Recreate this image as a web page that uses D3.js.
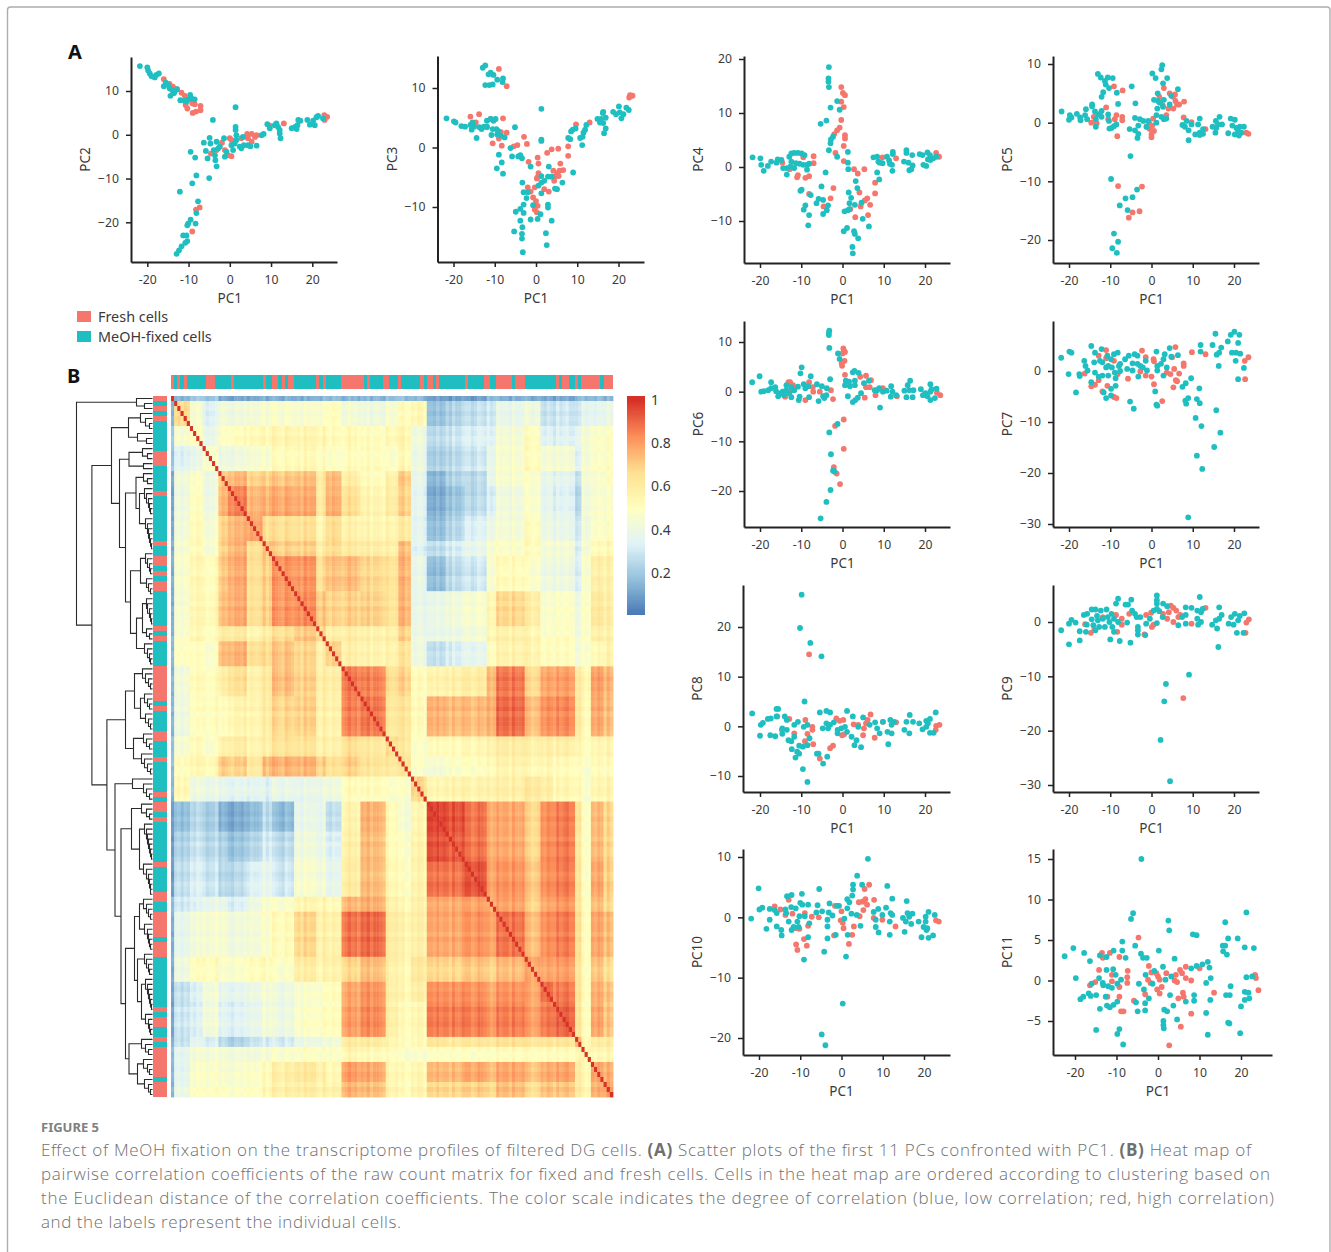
<!DOCTYPE html>
<html>
<head>
<meta charset="utf-8">
<script src="https://cdn.jsdelivr.net/npm/d3@7"></script>
<style>
  html, body { margin: 0; padding: 0; background: #fff; }
  svg { display: block; }
  text { font-family: "Noto Sans", sans-serif; }
</style>
</head>
<body>
<div id="plot"></div>
<script>
// Scatter data, [PC1, PCn]
const pc2Fresh = [[-16,12.7],[-14.6,11.6],[-13.8,11],[-12.8,10.4],[-11.7,9.6],[-10.9,8.9],[-10.7,6.8],[-10.3,6],[-9.1,7.2],[-8.5,7],[-7.1,6.6],[-9,5],[-8.2,5.3],[-7.1,5.6],[-7.3,-16.6],[-8.2,-17.1],[-9.1,-22.1],[-4.6,-4.3],[-3.2,-3.5],[-1.9,-1.8],[-1.2,-3.5],[-.4,-4.7],[.4,-4.9],[0,-.8],[.4,-1.2],[.8,-2],[2.8,-.8],[4.2,.2],[5.3,.2],[4.4,-.8],[5.3,-1.6],[6.1,-.5],[6.5,-.1],[9.7,2.1],[13.1,2.6],[22.9,4.5],[23.6,4.1],[23,3.4]];
const pc2Fixed = [[-21.8,15.7],[-20,15.4],[-19.8,14.7],[-19.4,14],[-19,13.4],[-18.2,13.1],[-17.8,13.7],[-17.2,14],[-16,11.1],[-15.5,11.9],[-15,11.4],[-14.6,10.6],[-14,10.2],[-13.4,9.8],[-12.8,10.4],[-14.4,8.9],[-13.6,9.5],[-12,7.9],[-11,7.8],[-10,8.1],[-9.6,9.1],[-9.3,8.3],[-8.5,8.1],[-10.5,7.6],[-12.1,-13],[-9.5,-3.9],[-8.4,-5.2],[-9.1,-11.1],[-8.1,-9.3],[-5,-9.9],[-4.1,3.4],[-6.3,-1.8],[-5.8,-3.7],[-5.4,-5.4],[-4.9,-.7],[-4.7,-2],[-3.9,-3.5],[-3.6,-4.7],[-3.5,-5.8],[-3.2,-7.2],[-3.2,-1.6],[-2.8,-3.1],[-2.4,-2.7],[-1.4,-.8],[-1.2,-5],[-.8,-3.9],[.4,-2.4],[.8,-3.5],[1.2,-2],[1.4,6.3],[1.4,1.8],[1.4,1.1],[1.6,-.1],[1.6,-1.2],[2.4,-2.7],[2.8,-3.1],[3.2,-.5],[3.4,-2.4],[4.4,-2.4],[5,-2.6],[6.5,-2.5],[7.7,-.1],[8.2,.2],[9.1,2.4],[9.7,1.5],[10.9,2.2],[11.3,2.6],[11.7,1.8],[12.1,1.1],[12.3,-.8],[12.1,.3],[15,1.5],[15.8,1.8],[16.4,2.2],[16.6,3.4],[17.1,3.2],[18.8,3.4],[19.4,2.3],[20.2,3.2],[20.6,2.2],[21,4],[21.4,4.3],[22.6,3.7],[16.2,1.3],[-7.7,-15.2],[-8.1,-17.9],[-8.3,-20.3],[-9.5,-19.4],[-10.1,-20.3],[-10.3,-20.7],[-11.3,-23],[-10.5,-23],[-10.3,-24.3],[-10.8,-24.7],[-11.7,-25.5],[-12.3,-26.4],[-12.9,-27.2]];

const pc3Fresh = [[-15.9,5.2],[-13.8,5.6],[-14.6,4.2],[-11.9,3.4],[-11,4.8],[-10.5,.7],[-9,1.5],[-8.5,2.6],[-8,4.9],[-7.1,2.5],[-8.3,.3],[-9,13.2],[-7.1,10.3],[-5.4,.2],[-4.5,.4],[-2.9,1.8],[-2.2,.6],[-1.8,-2.4],[.4,-1.7],[.6,-2.7],[.6,-4.3],[2.7,-.9],[3.8,-.3],[5.4,-.2],[7.8,.2],[7.8,-1.4],[5.9,-2.7],[4.2,-3.9],[5.1,-4.3],[5.7,-3.9],[6.6,-3.8],[4.6,-4.9],[5.5,-4.8],[4.4,-5.6],[.4,-5],[.2,-5.2],[-.3,-6.7],[-2,-6.7],[-1.3,-7.4],[-.7,-8.4],[0,-9],[.4,-9.8],[-.3,-10.4],[.2,-10.9],[2,-7],[3.1,-7.4],[9.7,3.9],[13,4.2],[22.9,8.7],[22.6,8.4],[23.4,8.7],[22.8,8.8]];
const pc3Fixed = [[-21.7,4.9],[-19.9,4.4],[-19.5,4.2],[-18.1,3.6],[-17.2,3.5],[-15.9,3.8],[-15.4,4.2],[-15,3.5],[-15.6,3],[-14.4,1.6],[-13.7,3.4],[-13.2,3.1],[-12.6,3.5],[-11.9,4.5],[-11.9,3.5],[-11,4.8],[-10.3,4.5],[-9.8,4.8],[-10.5,3.1],[-9.6,3.1],[-9.2,2.8],[-10.8,2.1],[-9.4,2.2],[-8.5,2],[-7.6,1.7],[-6.2,-.1],[-5.8,-1.5],[-4.3,-1.5],[-3.8,-1.3],[-3.4,-1.8],[-9,-1.2],[-8.3,-2.5],[-9.5,-3.5],[-8,-4.4],[-5.1,3.4],[-12.9,13.4],[-12.3,13.8],[-11.5,12.3],[-11,12.6],[-10.3,12.2],[-12.3,10.5],[-11.3,10.5],[-10.5,10.6],[-9.4,11.4],[-8,11.6],[-8.1,11],[1.3,6.5],[1.3,1.3],[1.3,1.1],[-1.3,-3.2],[3.1,-3.2],[1.3,-4.8],[2.9,-4.9],[3.8,-4.9],[.6,-6.4],[2,-5.6],[1.3,-5.9],[1.3,-7.7],[4.6,-6.9],[5.1,-7],[6.4,-5.9],[9,-4.2],[-3.3,-5.9],[-3,-7.5],[-2,-7.5],[-2.3,-8.5],[-3,-9.6],[-.7,-9.7],[-3.8,-10.3],[-4.9,-10.8],[-3,-11],[1.1,-11.2],[2.9,-9.6],[2.9,-10.1],[-1.3,-12.1],[.4,-12],[3.8,-12.3],[-3.8,-12.3],[-3.3,-13.4],[-5.3,-14.1],[2.4,-14.4],[-3.4,-14.5],[-3.4,-15.3],[2.6,-16.4],[-3.2,-17.6],[7.8,1.6],[8.3,1.4],[8.5,2.7],[8.9,3],[9.6,3.2],[10.7,1.6],[11.2,.4],[11.3,1.8],[11.5,2.5],[11.9,3],[12.2,3.8],[14.9,4.8],[15.5,4.2],[15.8,4.8],[16.2,5.8],[16.3,6],[16.3,4.1],[16.9,5],[16.5,2.4],[16.9,3.2],[18.7,6],[19.4,5.6],[20.1,6.9],[20.3,5.9],[20.7,4.9],[21.2,5.6],[21.9,6.7],[22.5,6.3]];

const pc4Fresh = [[-.3,14.8],[.1,13.7],[.6,13.3],[-.3,12.1],[.3,11.1],[-.3,8.7],[-.7,7.3],[-1.3,6.8],[-2,6.1],[.6,5.9],[.6,5.3],[.3,3.9],[-1.7,2.6],[.3,1.1],[2.8,-.4],[3.7,-1.2],[5.3,-.4],[7.9,-2.9],[7.9,-4.9],[4.1,-4.7],[6,-5.8],[5.4,-6.2],[6.7,-7],[4.4,-7.3],[6.2,-8.9],[3.1,-9.3],[1.9,-7.8],[-2.2,-3.9],[-2.9,-5.8],[-4.6,-7.3],[-8.1,-5],[-9,-2],[-8.1,-1.7],[-11,-1.9],[-10.8,-1.5],[-9.5,1.8],[-7,2],[-7,.7],[-14.6,.8],[-12.8,-.4],[9.7,1.8],[13,1.6],[22.7,2.6],[23.4,1.9]];
const pc4Fixed = [[-21.8,1.8],[-19.9,1.6],[-19.7,.4],[-19.1,-.7],[-18.1,.2],[-17.3,1],[-16,.8],[-15.7,1.4],[-14.8,1.3],[-14.4,-.2],[-13.5,-.2],[-13.5,-1.4],[-12.6,.1],[-12.9,1.9],[-12.4,2.5],[-11.7,2.6],[-10.8,2.6],[-9.9,2.5],[-9.2,2.2],[-12.4,1],[-11.3,.7],[-10.4,.6],[-9.5,.4],[-8.6,.4],[-8.1,.6],[-8.6,-.5],[-11.7,-.2],[-9.9,-4.2],[-10.2,-4.4],[-9,-7.1],[-9.4,-7.9],[-8.1,-8.9],[-8.3,-10.8],[-7.7,-5.2],[-4.1,-1],[-5.1,-3.6],[-5.8,-5.9],[-6.3,-6.7],[-4.7,-6.1],[-3.5,-7.1],[-3.8,-8],[-4.7,-8.7],[-3.3,18.5],[-3.4,16.4],[-3.4,15.8],[-3.3,14.8],[-1.3,12.2],[-.7,10.6],[-2.9,11],[-3.9,8.6],[-5.3,8],[-2.3,5.6],[-2.8,5.1],[-2.9,4.4],[-3.3,3.1],[-1.3,1.9],[1.3,2.8],[1.3,.8],[1.4,-.4],[3.2,-2.6],[3.6,-3.9],[1.5,-4.7],[2.1,-5.7],[1.7,-6.7],[3,-7],[4.6,-6.6],[.5,-8.2],[1.3,-8],[1.7,-7.8],[4.9,-9.6],[6.4,-11],[.3,-11.9],[1.1,-11.3],[2.8,-11.9],[3,-12.4],[3.8,-13.2],[2.4,-14.8],[2.5,-16],[7.5,1.8],[8.4,1.9],[8.7,1],[8.4,-1],[8.9,-2.3],[9,.8],[9.7,.7],[10.8,1.9],[11.3,1.2],[11.5,.6],[12.1,-.7],[12.2,2.8],[12.2,2.4],[12,.4],[14.9,1],[15.5,3.1],[15.5,2.6],[16,.8],[16.9,2.2],[16.2,-.6],[17,.3],[16.7,-.4],[18.7,2.4],[19.4,2.2],[19.6,.4],[20.3,.2],[20.6,2.7],[21.2,2.2],[20.7,1.4],[21.3,1.3],[22,1.6],[22.7,1.9]];

const pc5Fresh = [[-14.6,0],[-14,1],[-13.3,-.1],[-12.5,1.4],[-11,2.6],[-10.5,.6],[-9.1,6.2],[-7,5.5],[-8.5,1.3],[-8.9,.6],[-7.1,1],[-7.1,.4],[-8.3,-2.3],[-8.1,-10.8],[-2.3,-10.9],[-4.6,-15.3],[-2.9,-15.1],[-5.5,-16.2],[-1.2,-.7],[-.4,-1.1],[0,-2],[.4,.7],[0,-2.5],[.6,-1.4],[-.6,0],[.2,-.5],[3.6,1.3],[3,5.9],[1.9,4.4],[2.7,3],[4.1,2.4],[4.4,5],[5.2,4.4],[5.7,4.8],[5.8,3.7],[6.2,3.1],[6.7,3.1],[5.3,2.4],[7.9,3.6],[7.8,.9],[9.7,.1],[13.1,-1.1],[23,-1.7],[23.5,-1.9]];
const pc5Fixed = [[-21.8,1.9],[-19.8,1.3],[-19.4,.9],[-20,.5],[-18.1,1.5],[-17.3,.9],[-17.2,.4],[-15.9,2.3],[-16.1,1.3],[-15.6,.6],[-14.4,3.1],[-14.4,2.8],[-13.7,1.9],[-12.9,1.4],[-13.5,-.7],[-13.5,.6],[-12.1,2],[-12.1,1],[-10.5,1.4],[-10.3,.3],[-10.2,-1],[-9.7,-.9],[-9.1,-.6],[-8.5,-.3],[-13,8.3],[-12.3,7.7],[-10.6,7.7],[-9.4,7.6],[-11.3,7.1],[-11.1,6.5],[-10.3,5.9],[-11.7,5.2],[-12.1,4.4],[-8.4,5.1],[-8.1,3.2],[-4.8,6.2],[-3.9,3.3],[-4,.8],[-2.8,.6],[-2,.3],[-.8,.3],[-3.2,-.5],[-4,-1.3],[-5.3,-1.1],[-3.2,-1.9],[-3.4,-2.6],[-1.2,-.7],[-5.1,-5.7],[-9.8,-9.6],[-3.5,-11.4],[-4.6,-12.7],[-6.3,-12.9],[-7.7,-14.1],[-5.8,-14.9],[-9.1,-18.9],[-8.1,-20.3],[-9.5,-21.4],[-8.4,-22.2],[.2,8.4],[2.6,9.8],[2.4,9.1],[1,7.6],[3.8,7.6],[2.8,6.7],[6.4,5.7],[1.5,5],[4.8,4.6],[.6,3.9],[1.6,3.7],[3,3.9],[2,3.4],[4.4,3.1],[2.8,2.7],[1.4,2.4],[1.2,1.3],[2.4,1],[3,.6],[3.6,.7],[1.2,0],[7.5,-.4],[8.5,.3],[8.1,-.7],[9,-1.3],[9,-3],[9.7,-.3],[10.6,-2],[11.3,-.3],[11.7,.7],[11.7,-1.7],[12.5,-1.1],[12.5,-1.9],[11.7,-2.1],[14.8,-.7],[15.6,.3],[15.7,-.9],[16.1,-.3],[15.5,-1.7],[16.5,1],[17.1,-.3],[18.6,-1.8],[19.2,.7],[20.2,.5],[19.6,-.5],[20.6,-.9],[20.2,-2],[21,-1.4],[21.4,-.7],[21.2,-2.2],[22.4,-.7],[21.8,-1.7]];

const pc6Fresh = [[-13.1,1.9],[-12.7,1.9],[-14.2,0],[-13.9,-1],[-12.2,.3],[-12,1.3],[-9,-1.7],[-8.1,1.9],[-7.2,.9],[-7.1,0],[-5.5,0],[-2.8,.3],[-2.3,-1.5],[.2,8.7],[.4,8.1],[0,7.7],[.6,8],[.5,6.2],[-.2,5.7],[-.1,5.2],[.6,3.4],[4.3,3],[5.7,3.2],[6.9,2.3],[5.7,.9],[6.6,.9],[5.4,-1.2],[8,-.7],[9.8,.7],[13.2,-.9],[.3,-5.6],[-1.8,-6.9],[.3,-11.5],[-2.1,-15.2],[-1.4,-16.5],[-.6,-18.6],[22.9,-.2],[23.7,-.7]];
const pc6Fixed = [[-21.9,1.9],[-20.1,3.1],[-19.7,0],[-19.1,.1],[-18,.3],[-17.3,1.9],[-17.3,.7],[-16.3,.9],[-16.1,.1],[-15.6,-.9],[-15,-.3],[-14.5,0],[-14.2,-.7],[-13.6,1.3],[-13.6,.3],[-12.9,-.3],[-12.4,.9],[-12.4,-1.1],[-11.7,.3],[-10.8,1],[-10.6,-1.7],[-10.4,-1],[-10.2,3.7],[-9.9,4.9],[-9.4,1.5],[-9,.7],[-8.3,1.1],[-8.1,-1.1],[-7.7,3.1],[-6.2,1.5],[-5.8,-1.9],[-5,1.1],[-4.7,-.9],[-4.4,-1.3],[-3.9,-.7],[-3.8,.7],[-3,2.5],[-3.2,12.3],[-3.3,11.9],[-3.3,11.4],[-3.2,8.8],[-1.1,7.7],[-.7,6.6],[-1.2,-6.5],[-3.2,-8.2],[-2.8,-12.6],[-2.3,-15.9],[-1.9,-16.1],[-2.9,-19.8],[-3.9,-22.2],[-5.3,-25.5],[.6,1.3],[.8,2.2],[1.6,2],[1.3,-.9],[1.8,1.1],[2.5,3.9],[2.9,4.2],[3.9,3.8],[2.5,-2.1],[3.1,-1.7],[3.7,-1.2],[4.5,-.3],[3,1.3],[3,2.2],[5.2,1.7],[6.4,2.2],[7.8,.3],[8.4,.3],[8.9,.7],[9.1,-3.2],[9.8,0],[10.7,.2],[11.7,-1],[11.8,1.1],[12.1,0],[13,-.7],[15,.2],[15.5,-1.1],[15.8,1.3],[16.4,2.2],[16.2,.3],[17,-1.1],[17.2,.3],[19,.5],[19.5,-.7],[20.1,-.3],[20.6,-.9],[21.3,1.5],[21.3,0],[21.6,.5],[21.3,-1.7],[22.4,-1.3],[22.8,.6]];

const pc7Fresh = [[-16.2,-.5],[-14.6,-3],[-13.7,-2.7],[-12.8,-1.8],[-12.8,3],[-11.9,-4],[-11,4.1],[-10.7,-2.9],[-11,2.5],[-9.1,-5.1],[-8.5,-5.3],[-9.1,2],[-8.2,-.6],[-5.7,-1.5],[-2.3,4],[-1.4,2.7],[-2.7,-.1],[-1.4,-.9],[0,-1.1],[.5,2.3],[.6,1.9],[.6,-2.6],[2.6,-5.9],[3.7,-.3],[4.6,-.6],[5,2.7],[5.8,4.7],[5.5,.4],[5.3,-3.2],[5.9,-1.8],[6.2,-2],[6.7,-.5],[7.8,1.5],[7.8,1],[9.8,3.7],[13.1,3.3],[22.7,-1.6],[22.6,2],[23.5,2.7]];
const pc7Fixed = [[-21.9,2.6],[-19.9,3.8],[-19.4,3.6],[-20.1,-.6],[-18.3,-4.2],[-17.5,-.6],[-17.4,-1],[-16.3,2],[-16,1],[-15.5,.1],[-14.6,4.9],[-14.6,-2.2],[-13.7,3.6],[-13.9,1.7],[-13.7,-.3],[-12.5,2],[-12.8,-1.1],[-12.1,4.3],[-11.9,1.7],[-11.9,-.9],[-11.6,-4.2],[-11,-5.3],[-11,.7],[-10.7,3],[-10.5,-.9],[-10.5,1],[-9.8,2.3],[-9.8,-3.5],[-9.6,.7],[-9.8,-4.8],[-9.1,3.3],[-8.9,-.3],[-8.7,-2.9],[-8.2,3.6],[-8.7,-1.4],[-7.9,1],[-7.6,1.4],[-7.6,0],[-6.4,2.3],[-5.9,.4],[-5.5,3],[-5.2,-6],[-4.6,1.5],[-4.1,3.3],[-4.3,-7.4],[-4.6,.1],[-3.4,3],[-3.4,1.4],[-3.2,-1.1],[-2.7,1],[-2.1,.7],[-1.4,2],[-1.1,.1],[.9,-4],[1.2,3.8],[1.4,1],[1.4,.1],[1.2,-6.6],[1.4,-6.8],[2.3,1.4],[2.9,2.3],[3.2,3.3],[2.9,-.9],[3.7,.7],[4.8,2.8],[4.4,4.5],[6.4,3.1],[7.5,-3.1],[8.3,-2.4],[8.2,-5.8],[8.4,-6.4],[8.9,-5.3],[9.6,-1.4],[10.7,-9.2],[11,-16.6],[11,-5.5],[11.6,-3.4],[11.7,-6.3],[11.9,5.1],[11.9,3.8],[12.1,-10.8],[12.3,-19.2],[8.9,-28.7],[14.8,5.1],[15.5,7.3],[15.7,-7.7],[15.2,-14.9],[15.8,3.2],[16.3,1],[16.7,-12.1],[16.4,3.6],[16.9,4.6],[18.5,5.8],[19.2,7.1],[20.1,7.7],[19.5,3.6],[21.3,7.1],[21,5.5],[20.4,2],[21,-1.6],[20.5,3.6],[21.5,3.4],[22.4,.6]];

const pc8Fresh = [[-15.8,2],[-14.7,-.7],[-12.9,1.5],[-11.7,-1.4],[-9,1.3],[-9.1,-3],[-7.3,-.1],[-7.3,-.7],[-8.5,-1.5],[-7.1,-3.6],[-5.5,-6.5],[-3,-4.4],[-2.3,-3.9],[-1.5,1.6],[-.7,1.1],[.2,1.3],[-.1,-1.8],[.4,-1.6],[2.7,.4],[3.8,.3],[5.2,-.4],[5,-1.8],[5.7,.6],[6.1,1.3],[6.8,2.4],[7.8,-2.3],[9.8,.9],[13,.8],[-8.1,14.5],[22.7,.1],[23.5,.3],[22.6,-.7]];
const pc8Fixed = [[-21.9,2.6],[-20,-1.9],[-19.8,.3],[-19.3,.7],[-18.1,1.5],[-17.4,1.6],[-17.5,-1.8],[-16.3,-2],[-16,3.5],[-15.6,3.5],[-16,2],[-14.6,-1.5],[-14.6,-.4],[-14,2],[-13.5,1.3],[-13.5,-.7],[-13.1,-2.8],[-12.4,-3],[-12.3,-4.6],[-11.7,-2.1],[-11.7,.3],[-11.4,-6.3],[-11,-5.1],[-10.5,-5.5],[-10.8,.9],[-9.9,26.5],[-10.3,19.8],[-10.5,-3.9],[-9.6,-4.1],[-9.6,-8.6],[-9.2,5],[-9.4,-.1],[-8.5,.3],[-8.5,-11.2],[-8.5,-3.8],[-8,-2.4],[-7.8,16.8],[-5.1,14.1],[-6.2,-5.5],[-5.8,-5.5],[-4.7,-7.5],[-3.7,-6.1],[-5.5,2.8],[-3.9,3.1],[-3,2.8],[-4.8,-.4],[-3.9,.6],[-3.5,-.4],[-3,.3],[-2.1,.8],[-1.2,-.7],[-1.2,-1.4],[-.3,-.4],[.6,-.1],[1.1,3.1],[1.1,-1.1],[2.2,-2.1],[2.5,2],[2.9,-3.8],[3.4,-2.8],[3.8,-.1],[4.5,-4.2],[5,1.8],[6.6,.3],[7.9,.8],[8.4,-.4],[9,-1.4],[9.8,.9],[11.1,-3.6],[10.9,-1.1],[11.6,1.3],[11.9,-1.4],[11.9,.3],[12.5,.9],[15,-.7],[15.5,.9],[16.2,-1.4],[16.3,2.3],[17.1,.9],[18.6,.6],[19.4,-.6],[20.3,-.1],[20.3,1.1],[21.2,1.5],[21.2,-1.3],[22.1,-1.3],[22.6,2.8],[20.7,.6]];

const pc9Fresh = [[-16.1,-.4],[-14.7,-2],[-13.9,-1.5],[-11.8,.9],[-8.6,1.3],[-8.3,-1.8],[-7.2,.6],[-7.2,-.5],[-5.4,1.5],[-1.7,-2.3],[-1.3,1.3],[.1,-.9],[-.1,1.7],[.5,-.5],[2.8,1.5],[3.8,.6],[4.2,1.8],[4.7,3],[5.3,2.6],[6,2.1],[5.3,0],[6.5,.9],[7,1.3],[7.7,-14],[9.7,-.3],[13.1,2.6],[23,-.1],[23.6,.5],[22.8,-2]];
const pc9Fixed = [[-21.9,-1.5],[-20,-.3],[-20,-4.1],[-19.4,.4],[-18.4,-.1],[-17.4,-1.7],[-17.4,-3.4],[-16.4,1.3],[-15.6,1.5],[-15.7,-.5],[-15.9,-1.8],[-14.5,2.3],[-14.5,.5],[-14.1,-.6],[-13.6,2.3],[-13.6,-1.5],[-13.2,1.1],[-13,.3],[-12.7,-.9],[-12.3,2.1],[-11.8,.6],[-11.3,-.9],[-10.9,2.3],[-10.6,.9],[-10.2,0],[-10,-3.2],[-9.7,1.5],[-9.5,-.9],[-9.1,.6],[-9.1,-1.8],[-8.6,3.4],[-8.1,4.3],[-8.1,0],[-7.7,-3.5],[-6.3,3.2],[-5.7,3.2],[-5.9,-.1],[-4.9,4.1],[-5.1,-3.8],[-4.7,2.1],[-4,1.5],[-3.6,.9],[-3.3,-.9],[-3.3,-1.5],[-3.3,-2.3],[-2.7,.9],[-1.5,-2.4],[-1.3,-.3],[-.4,.6],[.5,2.1],[1.3,4.9],[1.3,4],[1.3,3.4],[1.3,2.4],[1.3,-.2],[1.9,2],[2.7,.9],[2.8,3.4],[3.8,2.9],[3.5,-11.4],[3.1,-14.6],[2.2,-21.7],[4.5,-29.3],[9.1,-9.7],[6.5,-.6],[7.4,.9],[8.3,2.7],[8.3,1.3],[8.3,-.3],[9.7,2.6],[11.1,.6],[11.3,-.5],[11.1,2.1],[11.7,4.6],[12,1.8],[12,0],[12.4,2.4],[14.7,-.5],[15.9,-1.2],[15.6,.3],[16.2,-4.6],[16.4,2.7],[16.4,.6],[17,1.3],[18.7,-.3],[19.3,.9],[19.9,-.5],[20.2,1.5],[20.7,-2],[21,.3],[21.4,1.1],[22.5,1.6],[22.3,-2]];

const pc10Fresh = [[-16.2,1.8],[-14.8,1.3],[-13.6,.4],[-12.8,2.9],[-11.9,.6],[-11,-1.8],[-10.2,-1.9],[-11,-4.5],[-10.7,-5.4],[-9.1,-3.6],[-8.4,-4.7],[-8.9,.7],[-8.1,-1.4],[-7.2,.1],[-5.5,0],[-1.8,-3],[-1.6,1.9],[0,1],[-.2,-.5],[.3,-.9],[.5,-1.8],[1.8,-4.4],[2.6,-2.9],[3,-1.5],[4.4,.2],[4.2,2.5],[5.3,1.2],[5.1,2.6],[5.8,3],[6.2,2.1],[5.6,4.7],[6.7,5.4],[7.9,2.9],[7.8,-.1],[9.9,-.4],[13.1,-1.5],[22.9,-.5],[23.6,-.7]];
const pc10Fixed = [[-21.9,-.2],[-20.1,4.8],[-19.9,1.3],[-19.2,1.6],[-18.2,-1.9],[-17.4,-.4],[-17.4,1.4],[-16.2,1.2],[-15.7,-1.5],[-15.7,.7],[-14.6,-2.1],[-14.5,-3],[-13.6,1.3],[-13.4,.7],[-13.2,3.5],[-12.1,3.7],[-12.8,-.7],[-12.2,1.7],[-12.1,-2.1],[-11.6,-1.6],[-11.1,1.5],[-10.7,-.7],[-10.4,-1.6],[-10.2,.2],[-10,2.4],[-9.6,3.9],[-9.5,2.1],[-8.9,.2],[-9.1,-7],[-8.1,2.1],[-8.1,-3.3],[-7.8,-1],[-6.1,.8],[-5.8,2],[-5.4,4.7],[-4.7,1],[-4.2,-5.7],[-4.8,-19.4],[-3.9,-21.2],[-3.4,-3.5],[-3.4,-1.5],[-3.4,-.4],[-3.1,.8],[-2.9,2.3],[-2.2,.3],[-1.4,-2.9],[-1.1,1.9],[-.6,1.9],[.7,-.2],[.3,-14.3],[1.1,-6.5],[1.4,3],[1.5,-2.9],[1.4,1.5],[1.9,2.5],[2.4,.6],[2.6,3.6],[2.8,5.4],[2.8,4.6],[3.8,6.9],[5,5.4],[4.6,-1.4],[6.4,9.7],[3.7,.4],[7.8,.9],[8.3,-.4],[8.3,-1.6],[8.9,1.4],[9,-2.5],[9.9,.4],[10.8,1.6],[11.1,5.2],[11.7,-2.9],[11.7,-.7],[11.9,.7],[12.3,.4],[12.3,3.1],[14.9,-.1],[15.3,-2.4],[15.8,2.7],[15.6,-.7],[16,.7],[16.4,.1],[16.9,-1.1],[17.2,.6],[18.7,-.7],[19.4,-3.3],[19.9,-1.6],[20.4,.1],[20.4,-.7],[20.6,-2.1],[20.8,-1.8],[21.1,.9],[21.1,-3.4],[22.2,-3],[22.6,.4]];

const pc11Fresh = [[-16.4,-.6],[-15.1,-.2],[-14.2,1.3],[-13.5,3.4],[-13.3,2.8],[-11.6,3.4],[-11.1,-.1],[-11.1,.7],[-12.2,-2],[-9.3,2.9],[-9.3,-2],[-9.3,-.8],[-8.9,-3.8],[-8.3,-3.8],[-7.3,1.2],[-7.4,.4],[-7.4,-.3],[-5.8,-2.5],[-4.7,5.3],[-3.1,-1.7],[-2.2,1.8],[-2.4,.1],[-1.6,1],[-1.8,-.3],[-.4,.9],[0,.5],[.4,.1],[-.2,-1.1],[.4,-1.6],[.9,-.8],[2.7,-8],[2,.9],[4.3,.7],[4,0],[4.6,-.2],[4.9,-2.2],[5.3,1.3],[5.5,-5.7],[5.8,.9],[6,-1.5],[6.2,-2],[6.7,1.7],[6.7,.3],[8,0],[8,-4.1],[10,1.5],[13.5,-1.5],[23.4,.7],[23.6,.3],[24.2,-1.2]];
const pc11Fixed = [[-22.5,3],[-20.4,4],[-19.8,.3],[-18.7,-2.3],[-18,-2],[-17.8,3.4],[-16.7,-1.6],[-16.2,-1.9],[-16.4,2.4],[-16,-.4],[-14.9,-1.8],[-14.9,-6.1],[-14,-3.5],[-14.2,.3],[-14,3.1],[-13.3,-.3],[-13.2,-.6],[-12.6,-2],[-12.4,2.9],[-12.4,1.3],[-12.3,-3.1],[-12,-.7],[-11.6,-3.3],[-11.1,-.9],[-10.8,1.4],[-10.7,3.7],[-10.7,-3],[-10.2,.7],[-9.8,-6.6],[-9.8,-2.6],[-9.3,-6],[-9.8,-.4],[-8.9,.1],[-8.6,4.8],[-8.6,3.7],[-8.4,-7.9],[-7.8,2.8],[-6.5,7.6],[-6,8.3],[-5.5,4.3],[-5.3,-2.7],[-4.9,-3.8],[-4.6,-.4],[-4.1,3.3],[-4,15],[-3.6,2.8],[-3.4,-1.1],[-3.1,-2.8],[-3.1,-3.7],[-2.7,2.8],[-3,.7],[-2.2,-2.2],[-1.3,-.4],[-.9,1.2],[.2,3.7],[1.2,1.7],[1.5,-3.6],[1.3,-5],[1.3,-5.5],[1.4,-5.9],[1.8,.1],[2.2,-3.8],[2.5,7.4],[2.7,6.2],[2.9,-1.8],[3.2,.5],[3.7,-3.1],[4,2.7],[4.6,-4.8],[6.7,-2.6],[8,1.5],[8.4,5.7],[8.7,-1.8],[8.7,-2.5],[9.3,5.6],[9.3,1.8],[10.7,2],[11.6,-4],[11.6,-.3],[12,2.3],[12,-6.7],[12.4,1.6],[12.7,.3],[12.6,-2.4],[15.6,4.3],[16.2,4.3],[15.7,3.6],[16.6,3.2],[16.2,7.2],[16.9,5.2],[16.4,-1.8],[16.9,-5.2],[17.3,-1.8],[17.5,-.7],[17.2,-5.3],[19.2,5.2],[20,-3.2],[19.8,-6.5],[20.9,4.1],[21.3,8.4],[21.3,.4],[20.9,-1.4],[20.9,-2.4],[21.8,-1.5],[22,-2.2],[23.1,4],[22.7,.5]];

// Tick labels
const pc1Ticks = [-20, -10, 0, 10, 20];
const pc2Ticks = [-20, -10, 0, 10];
const pc3Ticks = [-10, 0, 10];
const pc4Ticks = [-10, 0, 10, 20];
const pc5Ticks = [-20, -10, 0, 10];
const pc6Ticks = [-20, -10, 0, 10];
const pc7Ticks = [-30, -20, -10, 0];
const pc8Ticks = [-10, 0, 10, 20];
const pc9Ticks = [-30, -20, -10, 0];
const pc10Ticks = [-20, -10, 0, 10];
const pc11Ticks = [-5, 0, 5, 10, 15];
const colorbarTicks = [0.2, 0.4, 0.6, 0.8, 1];

// Heat map: cells in cluster order. Fresh cells by position, the rest are MeOH-fixed
const cellCount = 140;
const freshCells = [0,2,4,11,12,13,19,29,32,33,35,37,38,46,48,54,55,56,57,58,59,60,62,67,68,72,79,81,82,84,93,99,100,103,104,105,106,107,109,110,111,122,124,125,128,130,131,132,133,134,135,137,138,139];

// Block edges along the diagonal, and the mean correlation (percent) of each
// pair of blocks, lower triangle since the matrix is symmetric
const blockEdges = [0,1,6,10,15,18,24,29,32,39,46,49,54,60,68,72,76,81,87,93,100,103,112,117,121,128,130,133,137,140];
const blockLevels = [
  [30],
  [14,66],
  [20,45,50],
  [18,33,38,46],
  [12,42,48,40,70],
  [10,40,50,40,74,84],
  [11,42,52,44,68,74,78],
  [12,44,52,45,68,74,64,70],
  [12,45,54,50,70,76,64,68,80],
  [12,44,54,52,72,76,64,68,80,82],
  [14,46,54,50,60,60,54,58,64,70,66],
  [14,48,50,46,72,74,64,64,70,66,56,66],
  [14,42,52,50,58,64,56,60,72,68,58,56,86],
  [14,40,50,50,50,54,54,58,66,68,56,54,84,86],
  [16,44,52,46,56,58,54,56,62,62,56,54,64,60,64],
  [16,50,54,52,70,68,60,72,74,74,68,62,68,62,60,62],
  [14,52,40,38,36,34,34,32,36,36,38,38,50,50,46,46,66],
  [8,16,24,20,13,10,15,24,14,36,36,24,54,74,50,42,52,94],
  [8,22,28,24,22,17,23,30,24,40,38,30,56,72,50,46,54,92,90],
  [8,26,32,28,24,24,32,36,28,44,42,34,58,72,52,48,54,86,86,92],
  [16,30,34,38,38,32,40,46,46,54,54,50,74,76,56,52,56,76,76,78,76],
  [12,36,42,44,44,40,42,46,50,66,56,54,86,88,58,54,56,76,76,80,78,86],
  [12,40,50,50,46,46,50,50,46,58,54,54,66,72,56,52,60,66,66,70,68,72,76],
  [10,26,32,42,36,34,38,42,38,44,46,48,76,80,56,52,56,80,80,80,76,80,76,86],
  [10,28,32,42,34,32,36,42,38,46,48,48,78,82,56,50,52,84,84,84,80,84,78,84,88],
  [12,26,34,30,24,20,26,28,28,36,38,38,58,58,52,48,50,60,58,60,60,62,60,60,60,70],
  [16,36,44,44,44,42,42,44,46,48,48,46,54,52,50,46,46,48,48,48,50,50,50,50,50,52,54],
  [14,34,46,46,44,44,46,50,56,60,56,50,78,76,52,50,52,72,72,76,72,76,70,74,76,56,52,76],
  [14,38,48,48,48,46,48,52,56,58,56,54,74,72,54,50,54,66,66,68,66,72,64,70,70,58,54,74,78]
];
const cellStreaks = "44535443545344635443554635445635654365445364554365465534645354635543644556345465355464553644655346545346455364456534554653645644565345465364456534";

// Dendrogram: [height, upper, lower], and {s: heights} for a staircase of leaves
const dendroTree = [76, {s:[16,8]},
  [60.6,
    [41,
      [24, {s:[12,7,3]}, {s:[15,6]}],
      [33,
        [23.5, {s:[10,5]}, {s:[9]}],
        [27,
          [16.5, {s:[9,5]}, [13, {s:[8,6,4,3,2]}, {s:[7,5,4,3,2,1]}]],
          [22, [12, {s:[7,5,3,2]}, {s:[6,4,2]}],
               [16, [10, {s:[6,5,3,2,1]}, {s:[6,3]}], {s:[8,5,3,2]}]]]]],
    [45.6,
      [27,
        [18, {s:[10,7,4,2]}, [12, {s:[8,5,3]}, {s:[7,4,2]}]],
        [19, {s:[9,6,3]}, {s:[11,8,5,2]}]],
      [37.5,
        {s:[20,9,6,3]},
        [31.5,
          [21, {s:[11,6,3]}, [13, {s:[8,6,5,4,3,2,1]}, {s:[9,6,4,3,2,2]}]],
          [27,
            [18, [13, {s:[9,6,4,2]}, {s:[8,5,4,3,2]}],
                 [15, {s:[8,6,4,3]}, [11, {s:[7,5,4,3,2,1]}, {s:[7,4,3,2]}]]],
            [23.5, {s:[11,7,4]}, [15, {s:[9,5,3]}, {s:[8,4,2]}]]]]]]]];

const legendLabels = ["Fresh cells", "MeOH-fixed cells"];
const captionHead = "FIGURE 5";
const captionLines = [
  [["Effect of MeOH fixation on the transcriptome profiles of filtered DG cells. ",0],["(A)",1],[" Scatter plots of the first 11 PCs confronted with PC1. ",0],["(B)",1],[" Heat map of",0]],
  [["pairwise correlation coefficients of the raw count matrix for fixed and fresh cells. Cells in the heat map are ordered according to clustering based on",0]],
  [["the Euclidean distance of the correlation coefficients. The color scale indicates the degree of correlation (blue, low correlation; red, high correlation)",0]],
  [["and the labels represent the individual cells.",0]]
];
const captionWidths = [1210, 1229, 1233, 360];

// Layout
const W = 1331, H = 1252;
const freshColor = "#f4766c", fixedColor = "#1fbfc1";
const panelSpecs = [
  {name:"PC2", fresh:pc2Fresh, fixed:pc2Fixed, ticks:pc2Ticks, l:131, r:337, t:57, b:262, xa:147.3, xb:312.3, ya:[10,91], yb:[-20,222.3]},
  {name:"PC3", fresh:pc3Fresh, fixed:pc3Fixed, ticks:pc3Ticks, l:437.5, r:644, t:56, b:262, xa:453.5, xb:618.5, ya:[10,88], yb:[-10,207]},
  {name:"PC4", fresh:pc4Fresh, fixed:pc4Fixed, ticks:pc4Ticks, l:744, r:950, t:56, b:263, xa:760, xb:925, ya:[20,59], yb:[-10,221]},
  {name:"PC5", fresh:pc5Fresh, fixed:pc5Fixed, ticks:pc5Ticks, l:1053, r:1259, t:56, b:263, xa:1069, xb:1234, ya:[10,64], yb:[-20,240]},
  {name:"PC6", fresh:pc6Fresh, fixed:pc6Fixed, ticks:pc6Ticks, l:744, r:950, t:321, b:527, xa:760, xb:925, ya:[10,342], yb:[-20,491]},
  {name:"PC7", fresh:pc7Fresh, fixed:pc7Fixed, ticks:pc7Ticks, l:1053, r:1259, t:321, b:527, xa:1069, xb:1234, ya:[0,371], yb:[-30,524]},
  {name:"PC8", fresh:pc8Fresh, fixed:pc8Fixed, ticks:pc8Ticks, l:743, r:950, t:585, b:792, xa:760, xb:925, ya:[20,627], yb:[-10,776]},
  {name:"PC9", fresh:pc9Fresh, fixed:pc9Fixed, ticks:pc9Ticks, l:1053, r:1259, t:585, b:792, xa:1069, xb:1234, ya:[0,622], yb:[-30,785]},
  {name:"PC10", fresh:pc10Fresh, fixed:pc10Fixed, ticks:pc10Ticks, l:743, r:950, t:849, b:1055, xa:759, xb:924, ya:[10,857], yb:[-20,1038]},
  {name:"PC11", fresh:pc11Fresh, fixed:pc11Fixed, ticks:pc11Ticks, l:1053, r:1272, t:849, b:1055, xa:1075, xb:1241, ya:[15,859], yb:[-5,1021]}
];

const svg = d3.select("#plot").append("svg")
  .attr("width", W)
  .attr("height", H);

// Slight softening, the reference heat map has no hard cell edges
const soften = svg.append("defs").append("filter")
  .attr("id", "soften")
  .attr("x", "-2%").attr("y", "-2%")
  .attr("width", "104%").attr("height", "104%");
soften.append("feGaussianBlur").attr("stdDeviation", 0.55);

// Page frame, runs off the bottom
svg.append("rect")
  .attr("x", 7.5).attr("y", 7)
  .attr("width", 1322.5).attr("height", H + 20)
  .attr("rx", 3)
  .attr("fill", "none")
  .attr("stroke", "#adadad")
  .attr("stroke-width", 1.4);

// Scatter panels
panelSpecs.forEach(p => {
  const perX = (p.xb - p.xa) / 40;
  const x = d3.scaleLinear()
    .domain([(p.l - p.xa) / perX - 20, (p.r - p.xa) / perX - 20])
    .range([p.l, p.r]);
  const perY = (p.yb[1] - p.ya[1]) / (p.ya[0] - p.yb[0]);
  const y = d3.scaleLinear()
    .domain([p.ya[0] - (p.b - p.ya[1]) / perY, p.ya[0] - (p.t - p.ya[1]) / perY])
    .range([p.b, p.t]);

  const g = svg.append("g").attr("class", "panel");

  [[p.fresh, freshColor], [p.fixed, fixedColor]].forEach(([pts, col]) => {
    g.append("g").selectAll("circle")
      .data(pts)
      .join("circle")
        .attr("cx", d => x(d[0]))
        .attr("cy", d => y(d[1]))
        .attr("r", 2.9)
        .attr("fill", col);
  });

  const xAxis = g.append("g")
    .attr("transform", `translate(0,${p.b})`)
    .call(d3.axisBottom(x).tickValues(pc1Ticks).tickSize(5).tickSizeOuter(0).tickPadding(8)
      .tickFormat(d => String(d)));
  const yAxis = g.append("g")
    .attr("transform", `translate(${p.l},0)`)
    .call(d3.axisLeft(y).tickValues(p.ticks).tickSize(5).tickSizeOuter(0).tickPadding(7));
  [xAxis, yAxis].forEach(a => {
    a.select(".domain").attr("stroke", "#222").attr("stroke-width", 2);
    a.selectAll(".tick line").attr("stroke", "#222").attr("stroke-width", 1.5);
    a.selectAll(".tick text")
      .attr("fill", "#3a3a3a")
      .style("font-family", '"Noto Sans", sans-serif')
      .style("font-size", "12.2px");
  });

  g.append("text")
    .attr("x", x(0))
    .attr("y", p.b + 41)
    .attr("text-anchor", "middle")
    .attr("fill", "#3a3a3a")
    .style("font-size", "13.5px")
    .text("PC1");
  g.append("text")
    .attr("transform", `translate(${p.l - 41},${(p.t + p.b) / 2})rotate(-90)`)
    .attr("text-anchor", "middle")
    .attr("fill", "#3a3a3a")
    .style("font-size", "13.5px")
    .text(p.name);
});

// Panel letters
svg.append("text").attr("x", 68).attr("y", 59)
  .attr("fill", "#111").style("font-size", "20px").style("font-weight", 700).text("A");
svg.append("text").attr("x", 67).attr("y", 383)
  .attr("fill", "#111").style("font-size", "20px").style("font-weight", 700).text("B");

// Legend
const legend = svg.append("g").selectAll("g")
  .data(legendLabels)
  .join("g")
    .attr("transform", (d, i) => `translate(77,${311 + i * 20})`);
legend.append("rect")
  .attr("width", 14).attr("height", 11)
  .attr("fill", (d, i) => i === 0 ? freshColor : fixedColor);
legend.append("text")
  .attr("x", 21).attr("y", 11)
  .attr("fill", "#3a3a3a")
  .style("font-size", "14.4px")
  .text(d => d);

// Heat map
const heatColor = d3.scaleLinear()
  .domain([0, 1/6, 2/6, 3/6, 4/6, 5/6, 1])
  .range(["#4575b4", "#91bfdb", "#e0f3f8", "#ffffbf", "#fee090", "#fc8d59", "#d73027"])
  .clamp(true);

const cellIds = d3.range(cellCount);
const heatX = d3.scaleBand().domain(cellIds).range([171, 613]);
const heatY = d3.scaleBand().domain(cellIds).range([396, 1097]);
const blockOf = d3.scaleThreshold().domain(blockEdges.slice(1, -1)).range(d3.range(blockEdges.length - 1));

function corr(i, j) {
  if (i === j) return 1;
  const a = blockOf(i), b = blockOf(j);
  const level = a >= b ? blockLevels[a][b] : blockLevels[b][a];
  return level / 100 + (+cellStreaks[i] - 4) * 0.012 + (+cellStreaks[j] - 4) * 0.02;
}

const heatCells = d3.cross(cellIds, cellIds);
svg.append("g")
  .attr("filter", "url(#soften)")
  .selectAll("rect")
  .data(heatCells)
  .join("rect")
    .attr("x", d => heatX(d[1]))
    .attr("y", d => heatY(d[0]))
    .attr("width", heatX.bandwidth() + 0.4)
    .attr("height", heatY.bandwidth() + 0.4)
    .attr("fill", d => heatColor(corr(d[0], d[1])));

// Cell labels, top and left
const cellColor = i => freshCells.includes(i) ? freshColor : fixedColor;
svg.append("g").attr("shape-rendering", "crispEdges")
  .selectAll("rect").data(cellIds).join("rect")
    .attr("x", d => heatX(d)).attr("y", 375)
    .attr("width", heatX.bandwidth() + 0.4).attr("height", 14)
    .attr("fill", cellColor);
svg.append("g").attr("shape-rendering", "crispEdges")
  .selectAll("rect").data(cellIds).join("rect")
    .attr("x", 153).attr("y", d => heatY(d))
    .attr("width", 14).attr("height", heatY.bandwidth() + 0.4)
    .attr("fill", cellColor);

// Dendrogram
const dendroX = d3.scaleLinear().domain([0, 76]).range([152.5, 76.5]);
const dendroPath = d3.path();
let leaf = 0;

function layoutNode(node) {
  // null is a leaf, staircases unfold into binary nodes
  if (node === null) {
    const y = heatY(leaf) + heatY.bandwidth() / 2;
    leaf++;
    return { h: 0, y };
  }
  let h, a, b;
  if (node.s) {
    h = node.s[0];
    a = null;
    b = node.s.length > 1 ? { s: node.s.slice(1) } : null;
  } else {
    [h, a, b] = node;
  }
  const ca = layoutNode(a), cb = layoutNode(b);
  const xh = dendroX(h);
  dendroPath.moveTo(dendroX(ca.h), ca.y);
  dendroPath.lineTo(xh, ca.y);
  dendroPath.lineTo(xh, cb.y);
  dendroPath.lineTo(dendroX(cb.h), cb.y);
  return { h, y: (ca.y + cb.y) / 2 };
}
layoutNode(dendroTree);

svg.append("path")
  .attr("d", dendroPath.toString())
  .attr("fill", "none")
  .attr("stroke", "#2b2b2b")
  .attr("stroke-width", 1.1);

// Colour bar
const barY = d3.scaleLinear().domain([0.2, 1]).range([573, 400]);
const barSteps = d3.range(0.01, 1.02, 0.005);
svg.append("g").attr("shape-rendering", "crispEdges")
  .selectAll("rect").data(barSteps).join("rect")
    .attr("x", 627).attr("y", d => barY(d) - 1)
    .attr("width", 18).attr("height", 1.6)
    .attr("fill", d => heatColor(d));
const barAxis = svg.append("g")
  .attr("transform", "translate(645,0)")
  .call(d3.axisRight(barY).tickValues(colorbarTicks).tickSize(0).tickPadding(6)
    .tickFormat(d => d === 1 ? "1" : d3.format(".1f")(d)));
barAxis.select(".domain").remove();
barAxis.selectAll("text")
  .attr("fill", "#3a3a3a")
  .style("font-family", '"Noto Sans", sans-serif')
  .style("font-size", "14px");

// Caption
svg.append("text")
  .attr("x", 41).attr("y", 1132)
  .attr("fill", "#808080")
  .style("font-size", "13px")
  .style("font-weight", 700)
  .text(captionHead);

captionLines.forEach((parts, i) => {
  const line = svg.append("text")
    .attr("x", 41)
    .attr("y", 1156 + i * 24)
    .attr("fill", "#6f6f6f")
    .attr("textLength", captionWidths[i])
    .attr("lengthAdjust", "spacing")
    .style("font-size", "17px")
    .style("font-weight", 300)
    .style("font-family", '"Open Sans", sans-serif');
  parts.forEach(([t, bold]) => {
    line.append("tspan")
      .style("font-weight", bold ? 700 : 300)
      .text(t);
  });
});
</script>
</body>
</html>
